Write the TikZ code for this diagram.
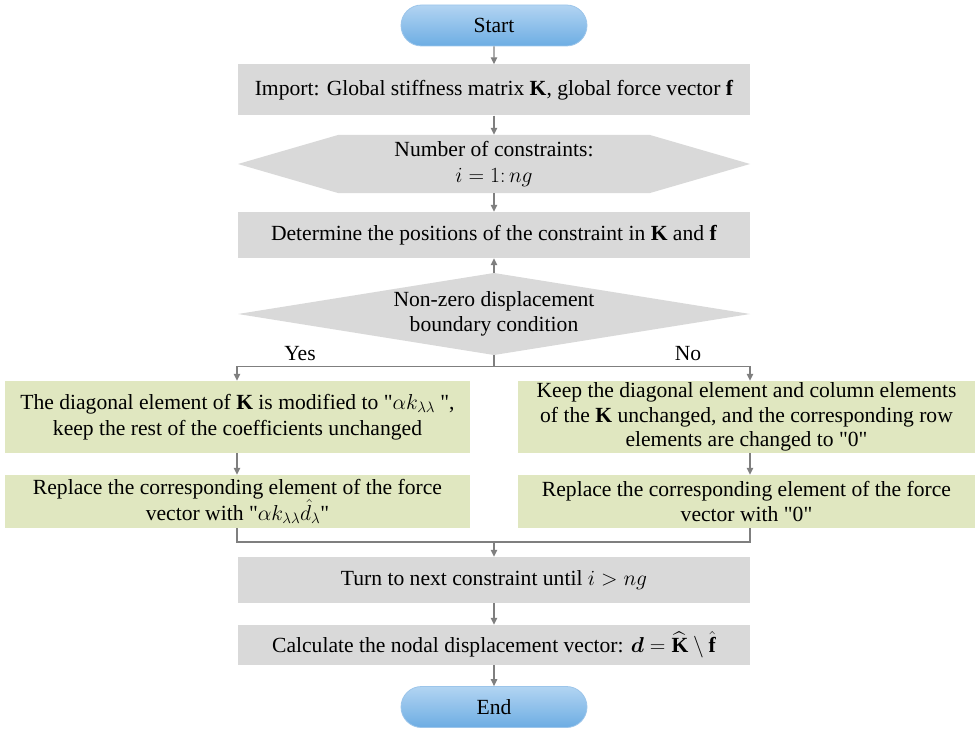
\RequirePackage{fix-cm}
\documentclass[tikz,border=0pt]{standalone}
\usepackage{amsmath,amssymb,bm}
\usepackage{fontspec}
\setmainfont{Liberation Serif}
\usetikzlibrary{arrows.meta,calc,shapes.misc}
\definecolor{boxgray}{HTML}{D9D9D9}
\definecolor{boxgreen}{HTML}{E0E7C0}
\definecolor{linegray}{HTML}{7F7F7F}
\definecolor{bluetop}{HTML}{B2D4F2}
\definecolor{bluebot}{HTML}{6DADE3}
\definecolor{blueedge}{HTML}{9CC5EA}
\begin{document}
\begin{tikzpicture}[x=1pt,y=-1pt,
  font=\fontsize{21.6}{25.5}\selectfont,
  term/.style={rounded rectangle, minimum width=186pt, minimum height=41pt, inner sep=0pt,
    top color=bluetop, bottom color=bluebot, draw=blueedge, line width=0.8pt},
  graybox/.style={fill=boxgray, minimum width=512pt, inner sep=0pt, align=center},
  greenbox/.style={fill=boxgreen, inner sep=0pt, align=center},
  hexbox/.style={minimum width=512pt, minimum height=58pt, inner sep=0pt, align=center, fill=white,
    path picture={\fill[boxgray] (path picture bounding box.west)
      -- ([xshift=100pt]path picture bounding box.north west)
      -- ([xshift=-100pt]path picture bounding box.north east)
      -- (path picture bounding box.east)
      -- ([xshift=-100pt]path picture bounding box.south east)
      -- ([xshift=100pt]path picture bounding box.south west) -- cycle;}},
  diabox/.style={minimum width=512pt, minimum height=82pt, inner sep=0pt, align=center, fill=white,
    path picture={\fill[boxgray] (path picture bounding box.west)
      -- (path picture bounding box.north)
      -- (path picture bounding box.east)
      -- (path picture bounding box.south) -- cycle;}},
  arr/.style={draw=linegray, line width=1.3pt, -{Triangle[length=7pt,width=6.5pt]}},
  ln/.style={draw=linegray, line width=1.3pt},
  lbl/.style={inner sep=0pt}
]
\useasboundingbox (0,0) rectangle (976,730);

\node[term] (start) at (494,25.5) {Start};
\node[graybox, minimum height=51pt] (imp) at (494,90) {Import: Global stiffness matrix \textbf{K}, global force vector \textbf{f}};
\node[hexbox] (hex) at (494,164) {Number of constraints:\\ $i=1{:}\,ng$};
\node[graybox, minimum height=46pt] (det) at (494,235) {Determine the positions of the constraint in \textbf{K} and \textbf{f}};
\node[diabox] (dia) at (494,314) {Non-zero displacement\\ boundary condition};

\node[greenbox, minimum width=465pt, minimum height=72pt] (l1) at (237.5,417)
  {The diagonal element of \textbf{K} is modified to \textquotedbl$\alpha k_{\lambda\lambda}$ \textquotedbl,\\ keep the rest of the coefficients unchanged};
\node[greenbox, minimum width=465pt, minimum height=53pt] (l2) at (237.5,501.5)
  {Replace the corresponding element of the force\\ vector with \textquotedbl$\alpha k_{\lambda\lambda}\hat{d}_{\lambda}$\textquotedbl};
\node[greenbox, minimum width=457pt, minimum height=72pt, font=\fontsize{21.6}{24.5}\selectfont] (r1) at (746.5,417)
  {Keep the diagonal element and column elements\\ of the \textbf{K} unchanged, and the corresponding row\\ elements are changed to \textquotedbl 0\textquotedbl};
\node[greenbox, minimum width=457pt, minimum height=53pt] (r2) at (746.5,501.5)
  {Replace the corresponding element of the force\\ vector with \textquotedbl 0\textquotedbl};

\node[graybox, minimum height=46pt] (turn) at (494,580) {Turn to next constraint until $i>ng$};
\node[graybox, minimum height=40pt] (calc) at (494,645) {Calculate the nodal displacement vector: $\bm{d}=\widehat{\mathbf{K}}\setminus\hat{\mathbf{f}}$};
\node[term] (end) at (494,707) {End};

\node[lbl] (yes) at (300,354) {Yes};
\node[lbl] (no) at (688,354) {No};

\draw[arr] (start) -- (imp);
\draw[arr] (imp) -- (hex);
\draw[arr] (hex) -- (det);
\draw[arr] (dia.north) -- (det.south);
\draw[ln] (dia.south) -- ++(0,11) coordinate (split);
\draw[arr] (split) -| ([xshift=-0.5pt]l1.north);
\draw[arr] (split) -| ([xshift=3.5pt]r1.north);
\draw[arr] ([xshift=-0.5pt]l1.south) -- ([xshift=-0.5pt]l2.north);
\draw[arr] ([xshift=3.5pt]r1.south) -- ([xshift=3.5pt]r2.north);
\draw[ln] ([xshift=-0.5pt]l2.south) |- (turn.north |- 0,542) coordinate (merge);
\draw[ln] ([xshift=3.5pt]r2.south) |- (merge);
\draw[arr] (merge) -- (turn.north);
\draw[arr] (turn) -- (calc);
\draw[arr] (calc) -- (end);
\end{tikzpicture}
\end{document}
